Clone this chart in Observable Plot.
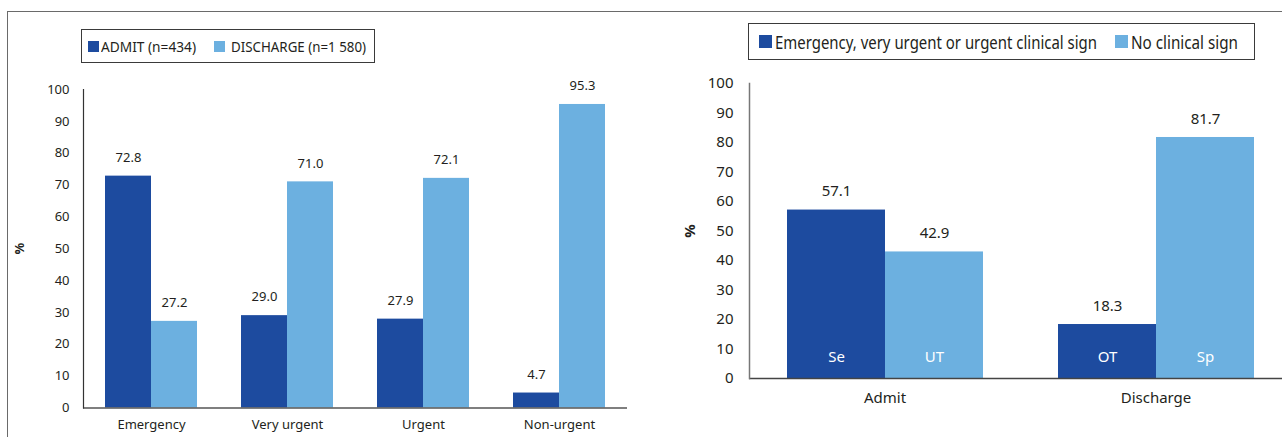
<!DOCTYPE html>
<html><head><meta charset="utf-8">
<script src="https://cdn.jsdelivr.net/npm/d3@7"></script>
<script src="https://cdn.jsdelivr.net/npm/@observablehq/plot@0.6"></script>
<style>
html,body{margin:0;padding:0;background:#fff;overflow:hidden;}
#fig{position:relative;width:1282px;height:437px;overflow:hidden;font-family:"Noto Sans",sans-serif;color:#231f20;background:#fff;}
.frame{position:absolute;left:7px;top:10.5px;width:1300px;height:440px;border-top:1.5px solid #6a6a6a;border-left:1.5px solid #6a6a6a;}
.panel{position:absolute;top:0;}
.panel svg{max-width:none !important;}
.legend{position:absolute;border:1.5px solid #3a3a3a;box-sizing:border-box;font-family:"Noto Sans",sans-serif;white-space:nowrap;color:#231f20;}
.item{position:absolute;top:0;height:100%;display:flex;align-items:center;}
.sw{display:inline-block;flex:none;}
.lt{display:inline-block;transform-origin:0 50%;}
.caption{position:absolute;left:747px;top:434px;font-size:15px;white-space:nowrap;color:#555;}
</style></head><body>
<div id="fig">
  <div class="frame"></div>
  <div id="left" class="panel" style="left:0;width:660px"></div>
  <div id="right" class="panel" style="left:660px;width:640px"></div>
  <div id="legL" class="legend" style="left:81px;top:29px;width:294px;height:34px;font-size:15px"></div>
  <div id="legR" class="legend" style="left:748px;top:23px;width:507px;height:37px;font-size:18px"></div>
  <div class="caption">Se = sensitivity; UT = under-triage; OT = over-triage; Sp = specificity</div>
</div>
<script>
// ---- data ----
const cats = ["Emergency", "Very urgent", "Urgent", "Non-urgent"];
const leftSeries = ["ADMIT (n=434)", "DISCHARGE (n=1 580)"];
const admitVals = [72.8, 29.0, 27.9, 4.7];
const dischargeVals = [27.2, 71.0, 72.1, 95.3];

const decisions = ["Admit", "Discharge"];
const rightSeries = ["Emergency, very urgent or urgent clinical sign", "No clinical sign"];
const signVals = [57.1, 18.3];
const noSignVals = [42.9, 81.7];
const signInner = ["Se", "OT"];
const noSignInner = ["UT", "Sp"];

const yTicks = [0, 10, 20, 30, 40, 50, 60, 70, 80, 90, 100];
const dark = "#1d4b9f", light = "#6cb0e0", ink = "#231f20";

// ---- left chart ----
const leftData = cats.flatMap((c, i) => [
  {cat: c, series: leftSeries[0], value: admitVals[i]},
  {cat: c, series: leftSeries[1], value: dischargeVals[i]}
]);

const left = Plot.plot({
  width: 660, height: 437,
  marginLeft: 82, marginRight: 32, marginTop: 89, marginBottom: 29.5,
  style: {fontFamily: "Noto Sans", fontSize: "13px", color: ink, background: "transparent", maxWidth: "none"},
  fx: {domain: cats, padding: 0, label: null},
  x: {domain: leftSeries, axis: null, paddingInner: 0, paddingOuter: 0.47},
  y: {domain: [0, 100]},
  color: {domain: leftSeries, range: [dark, light]},
  marks: [
    Plot.barY(leftData, {fx: "cat", x: "series", y: "value", fill: "series"}),
    Plot.text(leftData, {fx: "cat", x: "series", y: "value", text: d => d.value.toFixed(1), dy: -18.5, fontSize: 13, fill: ink}),
    Plot.ruleY([0], {stroke: "#555", strokeWidth: 1.5}),
    Plot.frame({anchor: "left", facetAnchor: "left", stroke: "#333", strokeWidth: 1.2}),
    Plot.axisY({ticks: yTicks, tickSize: 0, tickPadding: 14, label: null, fontSize: 13, fill: ink}),
    Plot.axisY({ticks: [], label: "%", labelAnchor: "center", labelOffset: 69, labelArrow: "none", fontSize: 13, fontWeight: "bold"}),
    Plot.axisFx({anchor: "bottom", tickSize: 0, tickPadding: 12, label: null, fontSize: 13, fill: ink})
  ]
});
document.getElementById("left").append(left);

// ---- right chart ----
const rightData = decisions.flatMap((d, i) => [
  {cat: d, series: rightSeries[0], value: signVals[i], inner: signInner[i]},
  {cat: d, series: rightSeries[1], value: noSignVals[i], inner: noSignInner[i]}
]);

const right = Plot.plot({
  width: 640, height: 437,
  marginLeft: 88, marginRight: 9, marginTop: 83, marginBottom: 59,
  style: {fontFamily: "Noto Sans", fontSize: "15px", color: ink, background: "transparent", maxWidth: "none"},
  fx: {domain: decisions, padding: 0, label: null},
  x: {domain: rightSeries, axis: null, paddingInner: 0, paddingOuter: 0.374},
  y: {domain: [0, 100]},
  color: {domain: rightSeries, range: [dark, light]},
  marks: [
    Plot.barY(rightData, {fx: "cat", x: "series", y: "value", fill: "series"}),
    Plot.text(rightData, {fx: "cat", x: "series", y: "value", text: d => d.value.toFixed(1), dy: -18.5, fontSize: 15, fill: ink}),
    Plot.text(rightData, {fx: "cat", x: "series", y: d => 0, text: "inner", dy: -21, fontSize: 15, fill: "white"}),
    Plot.ruleY([0], {stroke: "#444", strokeWidth: 1.5}),
    Plot.frame({anchor: "left", facetAnchor: "left", stroke: "#777", strokeWidth: 1.5}),
    Plot.axisY({ticks: yTicks, tickSize: 0, tickPadding: 16, label: null, fontSize: 15, fill: ink}),
    Plot.axisY({ticks: [], label: "%", labelAnchor: "center", labelOffset: 65, labelArrow: "none", fontSize: 15, fontWeight: "bold"}),
    Plot.axisFx({anchor: "bottom", tickSize: 0, tickPadding: 14, label: null, fontSize: 15, fill: ink})
  ]
});
document.getElementById("right").append(right);

// ---- legends (HTML, built from the series arrays) ----
// the original legend face is condensed; the text is narrowed to the reference widths
function legend(id, series, colors, items) {
  const box = document.getElementById(id);
  series.forEach((s, i) => {
    const it = document.createElement("div");
    it.className = "item";
    it.style.left = items[i].left + "px";
    const sw = document.createElement("span");
    sw.className = "sw";
    sw.style.width = items[i].size + "px";
    sw.style.height = items[i].size + "px";
    sw.style.marginRight = items[i].gap + "px";
    sw.style.background = colors[i];
    const t = document.createElement("span");
    t.className = "lt";
    t.textContent = s;
    it.append(sw, t);
    box.append(it);
    const w = t.getBoundingClientRect().width;
    t.style.transform = `scaleX(${items[i].textWidth / w})`;
  });
}
legend("legL", leftSeries, [dark, light], [
  {left: 5.5, size: 11, gap: 2, textWidth: 95},
  {left: 131.5, size: 11, gap: 6, textWidth: 135}
]);
legend("legR", rightSeries, [dark, light], [
  {left: 9.5, size: 13, gap: 3, textWidth: 322},
  {left: 365.5, size: 13, gap: 3, textWidth: 107}
]);
</script>
</body></html>
